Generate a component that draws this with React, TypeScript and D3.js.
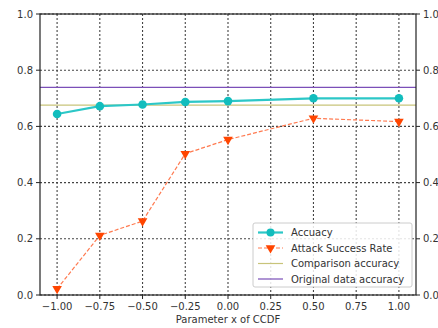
import { useEffect, useRef } from 'react';
import * as d3 from 'd3';

const xValues = [-1.0, -0.75, -0.5, -0.25, 0.0, 0.5, 1.0];
const accuracy = [0.644, 0.672, 0.678, 0.687, 0.69, 0.7, 0.7];
const attackRate = [0.022, 0.212, 0.263, 0.503, 0.553, 0.629, 0.617];
const comparisonAccuracy = 0.676;
const originalAccuracy = 0.739;
const xTicks = [-1.0, -0.75, -0.5, -0.25, 0.0, 0.25, 0.5, 0.75, 1.0];
const yTicks = [0.0, 0.2, 0.4, 0.6, 0.8, 1.0];

const W = 438;
const H = 328;

export default function App() {
  const svgRef = useRef<SVGSVGElement>(null);

  useEffect(() => {
    const svg = d3.select(svgRef.current);
    svg.selectAll('*').remove();

    const left = 40, right = 416, top = 14, bottom = 295;
    const x = d3.scaleLinear().domain([-1.1, 1.1]).range([left, right]);
    const y = d3.scaleLinear().domain([0, 1]).range([bottom, top]);
    const font = 'DejaVu Sans, sans-serif';

    svg.append('rect').attr('width', W).attr('height', H).attr('fill', '#fff');

    // grid
    const grid = svg.append('g').attr('stroke', '#444').attr('stroke-width', 1.1).attr('stroke-dasharray', '2,2');
    xTicks.forEach(t => {
      grid.append('line').attr('x1', x(t)).attr('x2', x(t)).attr('y1', top).attr('y2', bottom);
    });
    yTicks.forEach(t => {
      grid.append('line').attr('x1', left).attr('x2', right).attr('y1', y(t)).attr('y2', y(t));
    });

    // reference lines
    svg.append('line')
      .attr('x1', left).attr('x2', right)
      .attr('y1', y(comparisonAccuracy)).attr('y2', y(comparisonAccuracy))
      .attr('stroke', '#c8c47a').attr('stroke-width', 1.2);
    svg.append('line')
      .attr('x1', left).attr('x2', right)
      .attr('y1', y(originalAccuracy)).attr('y2', y(originalAccuracy))
      .attr('stroke', '#7b4fb8').attr('stroke-width', 1.2);

    const line = d3.line<number>().x((_, i) => x(xValues[i]));

    // attack success rate
    svg.append('path')
      .datum(attackRate)
      .attr('d', line.y(d => y(d)))
      .attr('fill', 'none')
      .attr('stroke', '#ff7a50')
      .attr('stroke-width', 1.2)
      .attr('stroke-dasharray', '4,2');
    const tri = d3.symbol().type(d3.symbolTriangle).size(40);
    svg.append('g').selectAll('path')
      .data(attackRate)
      .enter().append('path')
      .attr('d', tri)
      .attr('transform', (d, i) => `translate(${x(xValues[i])},${y(d)}) rotate(180)`)
      .attr('fill', '#ff4500');

    // accuracy
    svg.append('path')
      .datum(accuracy)
      .attr('d', line.y(d => y(d)))
      .attr('fill', 'none')
      .attr('stroke', '#2cc7c7')
      .attr('stroke-width', 2.2);
    svg.append('g').selectAll('circle')
      .data(accuracy)
      .enter().append('circle')
      .attr('cx', (d, i) => x(xValues[i]))
      .attr('cy', d => y(d))
      .attr('r', 4.3)
      .attr('fill', '#12bdbd');

    // frame
    svg.append('rect')
      .attr('x', left).attr('y', top)
      .attr('width', right - left).attr('height', bottom - top)
      .attr('fill', 'none').attr('stroke', '#222').attr('stroke-width', 1.2);

    // ticks
    const ticks = svg.append('g').attr('font-family', font).attr('font-size', 10).attr('fill', '#333');
    xTicks.forEach(t => {
      ticks.append('line').attr('x1', x(t)).attr('x2', x(t)).attr('y1', bottom).attr('y2', bottom + 4).attr('stroke', '#222');
      ticks.append('text').attr('x', x(t)).attr('y', bottom + 15).attr('text-anchor', 'middle')
        .text(d3.format('.2f')(t).replace('-', '\u2212'));
    });
    yTicks.forEach(t => {
      ticks.append('line').attr('x1', left - 4).attr('x2', left).attr('y1', y(t)).attr('y2', y(t)).attr('stroke', '#222');
      ticks.append('text').attr('x', left - 7).attr('y', y(t) + 3.5).attr('text-anchor', 'end').text(t.toFixed(1));
      ticks.append('line').attr('x1', right).attr('x2', right + 4).attr('y1', y(t)).attr('y2', y(t)).attr('stroke', '#222');
      ticks.append('text').attr('x', right + 7).attr('y', y(t) + 3.5).attr('text-anchor', 'start').text(t.toFixed(1));
    });

    svg.append('text')
      .attr('x', (left + right) / 2).attr('y', 323)
      .attr('text-anchor', 'middle')
      .attr('font-family', font).attr('font-size', 10).attr('fill', '#333')
      .text('Parameter x of CCDF');

    // legend
    const lg = svg.append('g').attr('transform', 'translate(253,223)');
    lg.append('rect').attr('width', 159).attr('height', 64).attr('rx', 2)
      .attr('fill', 'rgba(255,255,255,0.85)').attr('stroke', '#ccc');
    const items = [
      { label: 'Accuacy', color: '#2cc7c7', dash: null, marker: 'circle', w: 2.2 },
      { label: 'Attack Success Rate', color: '#ff7a50', dash: '4,2', marker: 'tri', w: 1.2 },
      { label: 'Comparison accuracy', color: '#c8c47a', dash: null, marker: null, w: 1.2 },
      { label: 'Original data accuracy', color: '#7b4fb8', dash: null, marker: null, w: 1.2 },
    ];
    items.forEach((it, i) => {
      const cy = 9.5 + i * 15.5;
      lg.append('line').attr('x1', 5).attr('x2', 30).attr('y1', cy).attr('y2', cy)
        .attr('stroke', it.color).attr('stroke-width', it.w)
        .attr('stroke-dasharray', it.dash);
      if (it.marker === 'circle') {
        lg.append('circle').attr('cx', 17.5).attr('cy', cy).attr('r', 4).attr('fill', '#12bdbd');
      } else if (it.marker === 'tri') {
        lg.append('path').attr('d', tri).attr('transform', `translate(17.5,${cy}) rotate(180)`).attr('fill', '#ff4500');
      }
      lg.append('text').attr('x', 38).attr('y', cy + 3.6)
        .attr('font-family', font).attr('font-size', 10).attr('fill', '#333')
        .text(it.label);
    });
  }, []);

  return (
    <svg ref={svgRef} width={W} height={H} style={{ position: 'absolute', left: 0, top: 0 }} />
  );
}
